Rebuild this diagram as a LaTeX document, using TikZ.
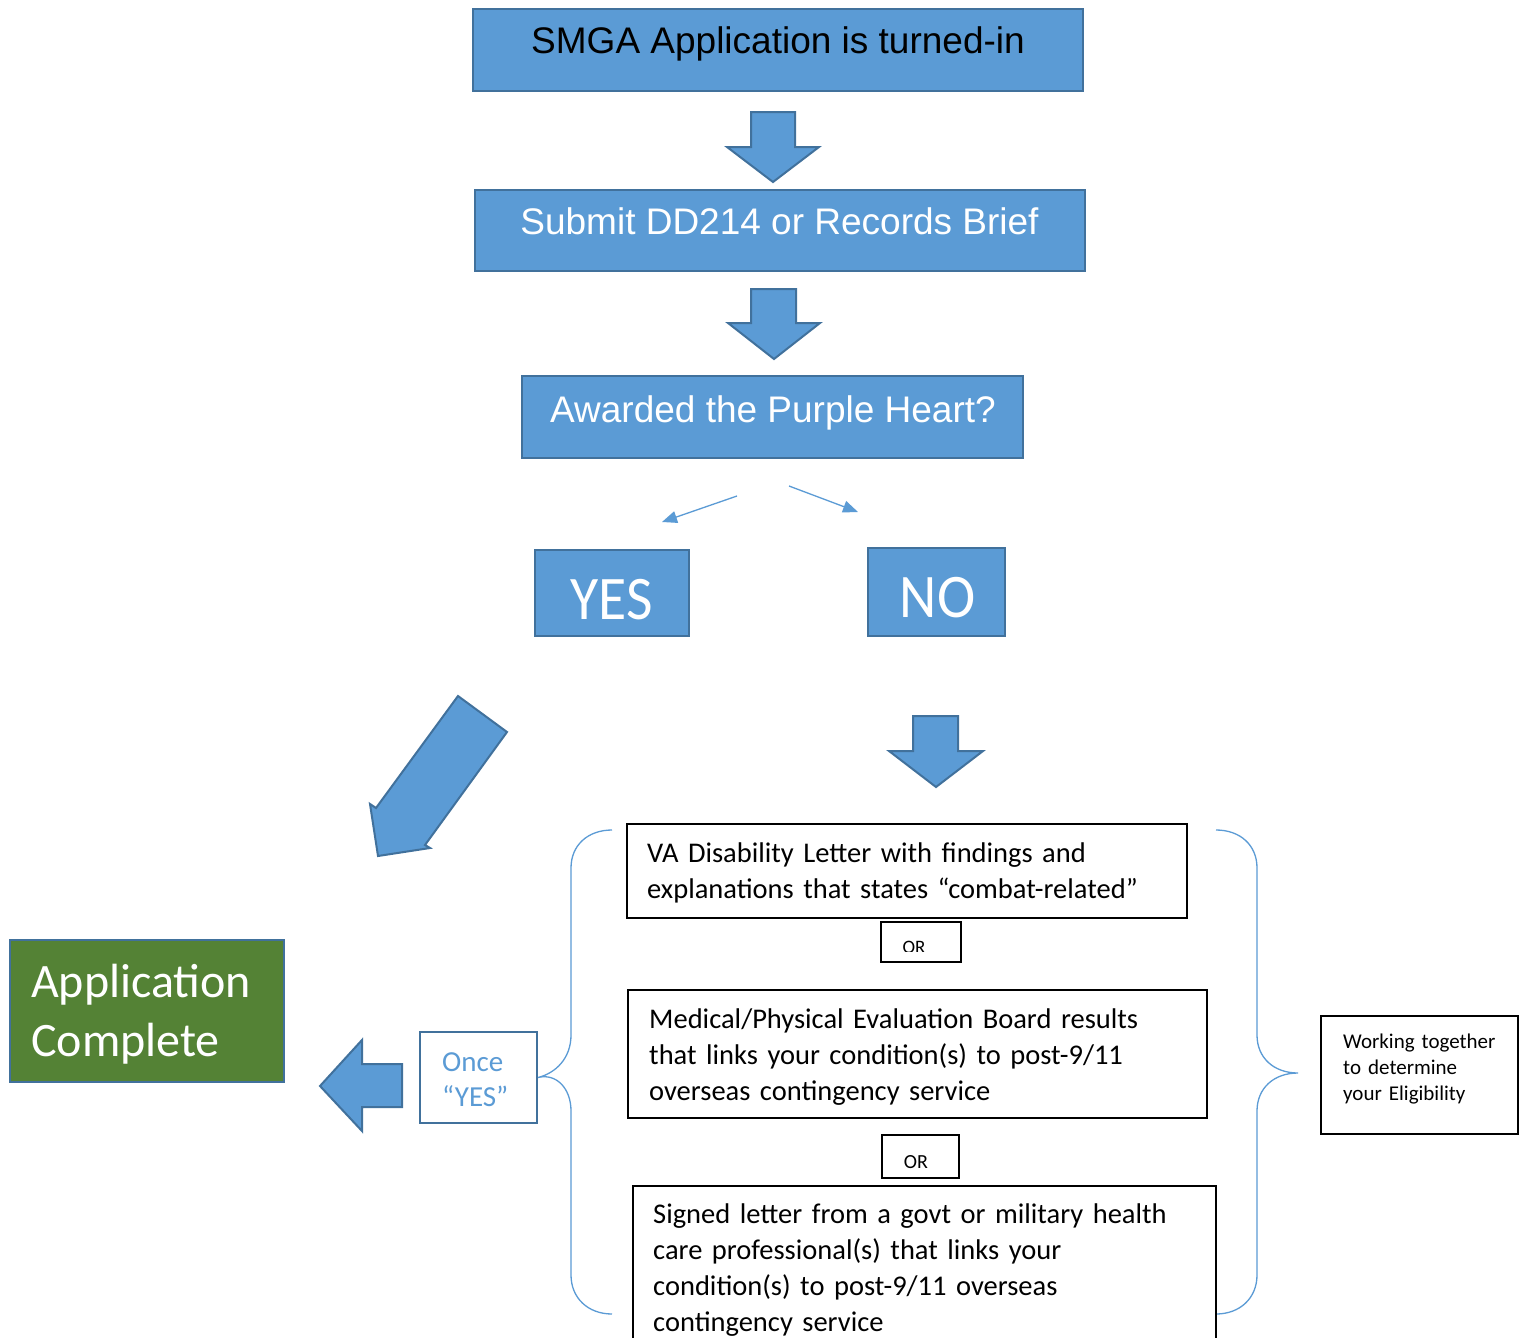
\documentclass[tikz,border=0pt]{standalone}
\usepackage{fontspec}
\usepackage{graphicx}
\setmainfont{Carlito}
\newfontfamily\arialf{Liberation Sans}
\usetikzlibrary{arrows.meta}
\definecolor{bfill}{HTML}{5B9BD5}
\definecolor{bdraw}{HTML}{41719C}
\definecolor{gfill}{HTML}{548235}
\begin{document}
\begin{tikzpicture}[x=1pt,y=-1pt,
  bluebox/.style={draw=bdraw, fill=bfill, line width=2pt, inner sep=0pt},
  greenbox/.style={draw=bdraw, fill=gfill, line width=2pt, inner sep=0pt},
  blockarrow/.style={draw=bdraw, fill=bfill, line width=2pt, line join=miter},
  plainbox/.style={draw=black, line width=2pt, inner sep=0pt},
  oncebox/.style={draw=bdraw, line width=2pt, inner sep=0pt},
  thinarrow/.style={draw=bfill, line width=1.3pt, -{Triangle[length=15pt,width=12pt]}},
  bracepath/.style={draw=bfill, line width=1.3pt},
  arialtext/.style={inner sep=0pt, anchor=base, font=\arialf\fontsize{37}{40}\selectfont},
  bodytext/.style={inner sep=0pt, anchor=base west, align=left, text width=560pt, font=\fontsize{28.5}{36}\selectfont},
]
\useasboundingbox (0,0) rectangle (1523,1338);
\fill[white] (0,0) rectangle (1523,1338);

% top chain
\node[bluebox, minimum width=610, minimum height=82] (b1) at (778,50) {};
\node[arialtext, text=black] (t1) at (778,53) {SMGA Application is turned-in};
\draw[blockarrow] (751,112) -- (795,112) -- (795,147) -- (819,147) -- (773,182) -- (727,147) -- (751,147) -- cycle;
\node[bluebox, minimum width=610, minimum height=81] (b2) at (780,230.5) {};
\node[arialtext, text=white] (t2) at (779.5,234) {Submit DD214 or Records Brief};
\draw[blockarrow] (751,289) -- (796,289) -- (796,323) -- (820,323) -- (774,359) -- (728,323) -- (751,323) -- cycle;
\node[bluebox, minimum width=501, minimum height=82] (b3) at (772.5,417) {};
\node[arialtext, text=white] (t3) at (773,422) {Awarded the Purple Heart?};

% thin arrows
\coordinate (la1) at (737,496);
\coordinate (la2) at (662,522);
\coordinate (ra1) at (789,486);
\coordinate (ra2) at (858,512);
\draw[thinarrow] (la1) -- (la2);
\draw[thinarrow] (ra1) -- (ra2);

% YES / NO
\node[bluebox, minimum width=154, minimum height=86] (yes) at (612,593) {};
\node[inner sep=0pt, anchor=base, text=white] (tyes) at (611.5,619) {\scalebox{0.93}[1]{\fontsize{62}{66}\selectfont YES}};
\node[bluebox, minimum width=137, minimum height=88] (no) at (936.5,592) {};
\node[inner sep=0pt, anchor=base, text=white] (tno) at (937.5,617) {\scalebox{0.93}[1]{\fontsize{62}{66}\selectfont NO}};

% diagonal arrow and NO arrow
\draw[blockarrow] (458,696) -- (507,732) -- (425,845) -- (430,848) -- (378,856) -- (370,804) -- (376,808) -- cycle;
\draw[blockarrow] (913,716) -- (958,716) -- (958,751) -- (983,751) -- (936,787) -- (889,751) -- (913,751) -- cycle;

% Application complete
\node[greenbox, minimum width=274, minimum height=142] (app) at (147,1011) {};
\node[inner sep=0pt, anchor=base west, align=left, text width=260pt, text=white, font=\fontsize{48}{59}\selectfont] (tapp) at (31,997) {Application\\Complete};

% left arrow
\draw[blockarrow] (402,1064) -- (402,1107) -- (362,1107) -- (362,1131) -- (320,1086) -- (362,1040) -- (362,1064) -- cycle;

% Once YES
\node[oncebox, minimum width=117, minimum height=91] (once) at (478.5,1077.5) {};
\node[inner sep=0pt, anchor=base west, align=left, text width=100pt, text=bfill, font=\fontsize{29}{35}\selectfont] (tonce) at (442,1071) {Once\\“YES”};

% braces
\draw[bracepath] (612,830) .. controls (588,830) and (571,845) .. (571,868) -- (571,1035) .. controls (571,1058) and (556,1073) .. (once.east) .. controls (556,1073) and (571,1088) .. (571,1111) -- (571,1275) .. controls (571,1298) and (588,1314) .. (612,1314);
\coordinate (rtip) at (1298,1073);
\draw[bracepath] (1216,830) .. controls (1240,830) and (1257,845) .. (1257,868) -- (1257,1035) .. controls (1257,1058) and (1274,1073) .. (rtip) .. controls (1274,1073) and (1257,1088) .. (1257,1111) -- (1257,1275) .. controls (1257,1298) and (1240,1314) .. (1216,1314);

% evidence boxes
\node[plainbox, minimum width=560, minimum height=94] (va) at (907,871) {};
\node[bodytext] (tva) at (647,862) {VA Disability Letter with findings and\\explanations that states “combat-related”};
\node[plainbox, minimum width=80, minimum height=40] (or1) at (921,942) {};
\begin{scope}
\clip (882,923) rectangle (960,951);
\node[inner sep=0pt, anchor=base, font=\fontsize{19}{22}\selectfont] (tor1) at (914,953) {OR};
\end{scope}
\node[plainbox, minimum width=579, minimum height=128] (med) at (917.5,1054) {};
\node[bodytext] (tmed) at (649,1028) {Medical/Physical Evaluation Board results\\that links your condition(s) to post-9/11\\overseas contingency service};
\node[plainbox, minimum width=77, minimum height=43] (or2) at (920.5,1156.5) {};
\node[inner sep=0pt, anchor=base, font=\fontsize{20}{22}\selectfont] (tor2) at (916,1168) {OR};
\node[plainbox, minimum width=583, minimum height=174] (sig) at (924.5,1273) {};
\node[bodytext] (tsig) at (653,1223) {Signed letter from a govt or military health\\care professional(s) that links your\\condition(s) to post-9/11 overseas\\contingency service};

% working together
\node[plainbox, minimum width=197, minimum height=118] (work) at (1419.5,1075) {};
\node[inner sep=0pt, anchor=base west, align=left, text width=180pt, font=\fontsize{21}{26}\selectfont] (twork) at (1343,1048) {Working together\\to determine\\your Eligibility};
\end{tikzpicture}
\end{document}
